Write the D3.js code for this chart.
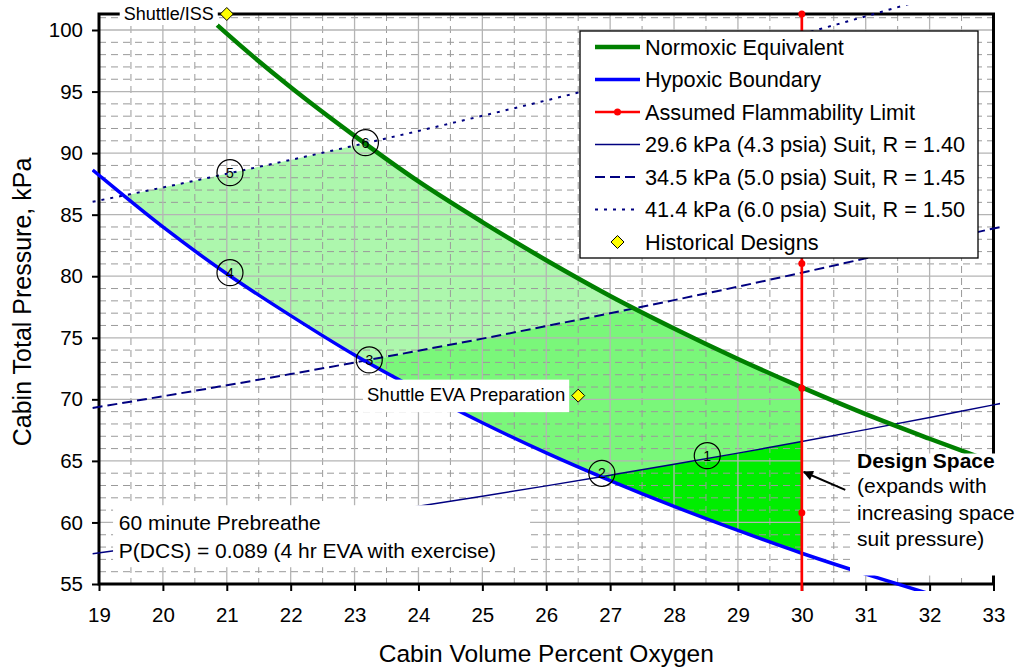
<!DOCTYPE html>
<html>
<head>
<meta charset="utf-8">
<script src="https://cdn.jsdelivr.net/npm/d3@7"></script>
<style>
  body { margin: 0; background: #fff; }
  svg { display: block; }
</style>
</head>
<body>
<svg></svg>
<script>
// axis ticks
const xTicks = [19, 20, 21, 22, 23, 24, 25, 26, 27, 28, 29, 30, 31, 32, 33];
const yTicks = [55, 60, 65, 70, 75, 80, 85, 90, 95, 100];

// curves, as [cabin % O2, cabin kPa]
const normoxic = [[20.85, 100.4], [21, 99.7], [22, 95.35], [23, 91.4], [24, 87.7], [25, 84.4], [26, 81.3],
  [27, 78.4], [28, 75.76], [29, 73.28], [30, 70.97], [31, 68.8], [32, 66.8], [33, 64.87]];
const hypoxic = [[18.9, 88.63], [19, 88.2], [20, 84.0], [21, 80.2], [22, 76.8], [23, 73.6], [24, 70.75],
  [25, 68.1], [26, 65.65], [27, 63.4], [28, 61.3], [29, 59.35], [30, 57.5], [31, 55.8], [32, 54.2]];
const flammability = [[30, 101.3], [30, 91.17], [30, 81.04], [30, 70.91], [30, 60.78], [30, 50.65]];
const suit296 = [[18.9, 57.46], [20, 58.25], [21, 58.99], [22, 59.74], [23, 60.52], [24, 61.32], [25, 62.13],
  [26, 62.97], [27, 63.84], [28, 64.72], [29, 65.63], [30, 66.57], [31, 67.54], [32, 68.53], [33, 69.55], [33.2, 69.75]];
const suit345 = [[18.9, 69.3], [20, 70.25], [21, 71.14], [22, 72.05], [23, 72.99], [24, 73.95], [25, 74.93],
  [26, 75.95], [27, 76.99], [28, 78.06], [29, 79.15], [30, 80.29], [31, 81.45], [32, 82.65], [33, 83.88], [33.2, 84.1]];
const suit414 = [[18.9, 86.05], [20, 87.21], [21, 88.32], [22, 89.45], [23, 90.61], [24, 91.8], [25, 93.03],
  [26, 94.28], [27, 95.57], [28, 96.9], [29, 98.27], [30, 99.67], [31, 101.11], [32, 102.6]];

// shaded regions
const regionLight = [[19.42, 86.55], [20, 87.21], [21, 88.32], [22, 89.45], [23.15, 90.78],
  [24, 87.7], [25, 84.4], [26, 81.3], [27, 78.4], [27.38, 77.38],
  [27, 76.99], [26, 75.95], [25, 74.93], [24, 73.95], [23.19, 73.12],
  [23, 73.6], [22, 76.8], [21, 80.2], [20, 84.0]];
const regionMid = [[23.19, 73.12], [24, 73.95], [25, 74.93], [26, 75.95], [27, 76.99], [27.38, 77.38],
  [28, 75.76], [29, 73.28], [30, 70.97], [30, 66.57], [29, 65.63], [28, 64.72], [27, 63.84], [26.86, 63.7],
  [26, 65.65], [25, 68.1], [24, 70.75]];
const regionDesign = [[26.86, 63.7], [27, 63.84], [28, 64.72], [29, 65.63], [30, 66.57],
  [30, 57.5], [29, 59.35], [28, 61.3], [27, 63.4]];

// numbered points
const pointNums = [1, 2, 3, 4, 5, 6];
const pointPos = [[28.52, 65.42], [26.87, 63.99], [23.23, 73.2], [21.05, 80.29], [21.05, 88.41], [23.17, 90.85]];

// historical designs
const histNames = ["Shuttle/ISS", "Shuttle EVA Preparation"];
const histPos = [[21, 101.3], [26.5, 70.3]];

const legendLabels = ["Normoxic Equivalent", "Hypoxic Boundary", "Assumed Flammability Limit",
  "29.6 kPa (4.3 psia) Suit, R = 1.40", "34.5 kPa (5.0 psia) Suit, R = 1.45",
  "41.4 kPa (6.0 psia) Suit, R = 1.50", "Historical Designs"];

const FONT = '"Liberation Sans", Arial, sans-serif';
const W = 1024, H = 670;

const x = d3.scaleLinear().domain([19, 33]).range([99, 993.5]);
const y = d3.scaleLinear().domain([55, 101.3]).range([584, 14]);

const svg = d3.select('svg').attr('width', W).attr('height', H).style('font-family', FONT);
svg.append('rect').attr('width', W).attr('height', H).attr('fill', '#fff');

const defs = svg.append('defs');
defs.append('clipPath').attr('id', 'plotClip')
  .append('rect').attr('x', 92).attr('y', 5).attr('width', 908).attr('height', 586);
defs.append('marker').attr('id', 'arrowHead')
  .attr('viewBox', '0 0 10 10').attr('refX', 9).attr('refY', 5)
  .attr('markerWidth', 6).attr('markerHeight', 5).attr('markerUnits', 'strokeWidth')
  .attr('orient', 'auto')
  .append('path').attr('d', 'M0,0 L10,5 L0,10 Z').attr('fill', '#000');

const flat = d3.line().x(d => x(d[0])).y(d => y(d[1]));
const smooth = d3.line().x(d => x(d[0])).y(d => y(d[1])).curve(d3.curveMonotoneX);

// shaded areas
const fills = svg.append('g');
fills.append('path').attr('d', flat(regionLight) + 'Z').attr('fill', '#adf7ad');
fills.append('path').attr('d', flat(regionMid) + 'Z').attr('fill', '#7af77a');
fills.append('path').attr('d', flat(regionDesign) + 'Z').attr('fill', '#00ee00');

// grid
const grid = svg.append('g');
const minorX = d3.range(19.5, 33, 1);
const minorY = d3.range(56, 102, 1).filter(v => v % 5 !== 0);
grid.selectAll('.vminor').data(minorX).join('line')
  .attr('x1', d => x(d)).attr('x2', d => x(d)).attr('y1', y(101.3)).attr('y2', y(55))
  .attr('stroke', '#9a9a9a').attr('stroke-dasharray', '7,5');
grid.selectAll('.hminor').data(minorY).join('line')
  .attr('x1', x(19)).attr('x2', x(33)).attr('y1', d => y(d)).attr('y2', d => y(d))
  .attr('stroke', '#9a9a9a').attr('stroke-dasharray', '7,5');
grid.selectAll('.vmajor').data(xTicks).join('line')
  .attr('x1', d => x(d)).attr('x2', d => x(d)).attr('y1', y(101.3)).attr('y2', y(55))
  .attr('stroke', '#b4b4b4').attr('stroke-width', 1.3);
grid.selectAll('.hmajor').data(yTicks).join('line')
  .attr('x1', x(19)).attr('x2', x(33)).attr('y1', d => y(d)).attr('y2', d => y(d))
  .attr('stroke', '#b4b4b4').attr('stroke-width', 1.3);

// axes
svg.append('g').attr('transform', `translate(0,${y(55)})`)
  .call(d3.axisBottom(x).tickValues(xTicks).tickSize(7).tickPadding(16).tickFormat(d3.format('d')))
  .attr('font-family', FONT).attr('font-size', 20.5)
  .call(g => g.select('.domain').remove())
  .call(g => g.selectAll('line').attr('stroke', '#000').attr('stroke-width', 2))
  .call(g => g.selectAll('text').attr('fill', '#000'));
svg.append('g').attr('transform', `translate(${x(19)},0)`)
  .call(d3.axisLeft(y).tickValues(yTicks).tickSize(7).tickPadding(9).tickFormat(d3.format('d')))
  .attr('font-family', FONT).attr('font-size', 20.5)
  .call(g => g.select('.domain').remove())
  .call(g => g.selectAll('line').attr('stroke', '#000').attr('stroke-width', 2))
  .call(g => g.selectAll('text').attr('fill', '#000'));

svg.append('rect')
  .attr('x', x(19)).attr('y', y(101.3))
  .attr('width', x(33) - x(19)).attr('height', y(55) - y(101.3))
  .attr('fill', 'none').attr('stroke', '#000').attr('stroke-width', 3);

svg.append('text').attr('transform', `translate(31,302) rotate(-90)`)
  .attr('text-anchor', 'middle').attr('font-size', 25).text('Cabin Total Pressure, kPa');
svg.append('text').attr('x', (x(19) + x(33)) / 2).attr('y', 662)
  .attr('text-anchor', 'middle').attr('font-size', 24.5).text('Cabin Volume Percent Oxygen');

// curves
const curves = svg.append('g').attr('clip-path', 'url(#plotClip)').attr('fill', 'none');
curves.append('path').datum(suit296).attr('d', smooth).attr('stroke', '#000080').attr('stroke-width', 1.5);
curves.append('path').datum(suit345).attr('d', smooth).attr('stroke', '#000080').attr('stroke-width', 2)
  .attr('stroke-dasharray', '10,5');
curves.append('path').datum(suit414).attr('d', smooth).attr('stroke', '#000080').attr('stroke-width', 2)
  .attr('stroke-dasharray', '3,6');
curves.append('path').datum(hypoxic).attr('d', smooth).attr('stroke', '#0000ff').attr('stroke-width', 3.5);
curves.append('path').datum(normoxic).attr('d', smooth).attr('stroke', '#008000').attr('stroke-width', 4.5);
curves.append('path').datum(flammability).attr('d', flat).attr('stroke', '#ff0000').attr('stroke-width', 2.7);
curves.selectAll('.flamDot').data(flammability).join('circle')
  .attr('cx', d => x(d[0])).attr('cy', d => y(d[1])).attr('r', 3.5).attr('fill', '#ff0000');

// numbered points
const nums = svg.append('g').selectAll('g').data(pointNums).join('g')
  .attr('transform', (d, i) => `translate(${x(pointPos[i][0])},${y(pointPos[i][1])})`);
nums.append('circle').attr('r', 13).attr('fill', 'none').attr('stroke', '#000').attr('stroke-width', 1.2);
nums.append('text').attr('text-anchor', 'middle').attr('dy', '0.36em').attr('font-size', 14).text(d => d);

// historical designs with labels
const diamond = 'M0,-6.5 L6.5,0 L0,6.5 L-6.5,0 Z';
histNames.forEach((name, i) => {
  const px = x(histPos[i][0]), py = y(histPos[i][1]);
  const fs = i === 0 ? 18 : 18.5;
  const by = i === 0 ? py + 6 : py + 5;
  const g = svg.append('g');
  const bg = g.append('rect').attr('fill', '#fff');
  const t = g.append('text').attr('x', px - 13).attr('y', by).attr('text-anchor', 'end')
    .attr('font-size', fs).text(name);
  const bb = t.node().getBBox();
  const padT = i === 0 ? 1 : 4, padB = i === 0 ? 1 : 7.5;
  bg.attr('x', bb.x - 4).attr('y', bb.y - padT).attr('width', bb.width + 8).attr('height', bb.height + padT + padB);
  g.append('path').attr('d', diamond).attr('transform', `translate(${px},${py})`)
    .attr('fill', '#ffff00').attr('stroke', '#000').attr('stroke-width', 1);
});

// prebreathe note
const note = svg.append('g');
note.append('rect').attr('x', x(19.22)).attr('y', y(61.4)).attr('width', 417).attr('height', 62).attr('fill', '#fff');
note.append('text').attr('x', x(19.31)).attr('y', y(59.4)).attr('font-size', 21).text('60 minute Prebreathe');
note.append('text').attr('x', x(19.31)).attr('y', y(57.15)).attr('font-size', 21)
  .text('P(DCS) = 0.089 (4 hr EVA with exercise)');

// design space note
const ds = svg.append('g');
ds.append('rect').attr('x', 850).attr('y', y(65.6)).attr('width', W - 850).attr('height', 122).attr('fill', '#fff');
const dsLines = ['(expands with', 'increasing space', 'suit pressure)'];
ds.append('text').attr('x', 857).attr('y', y(64.4)).attr('font-size', 21).attr('font-weight', 'bold').text('Design Space');
dsLines.forEach((s, i) => {
  ds.append('text').attr('x', 857).attr('y', y(64.4) + 25 + i * 26.5).attr('font-size', 21).text(s);
});
ds.append('line')
  .attr('x1', x(30.68)).attr('y1', y(62.64)).attr('x2', x(30.03)).attr('y2', y(64.1))
  .attr('stroke', '#000').attr('stroke-width', 2).attr('marker-end', 'url(#arrowHead)');

// legend
const legendStyle = [
  { stroke: '#008000', w: 4.5 },
  { stroke: '#0000ff', w: 3.5 },
  { stroke: '#ff0000', w: 2.7, dot: true },
  { stroke: '#000080', w: 1.5 },
  { stroke: '#000080', w: 2, dash: '10,5' },
  { stroke: '#000080', w: 2, dash: '3,6' },
  { diamond: true }
];
const lg = svg.append('g').attr('transform', 'translate(580,31)');
lg.append('rect').attr('width', 398).attr('height', 227).attr('fill', '#fff')
  .attr('stroke', '#000').attr('stroke-width', 1.3);
legendLabels.forEach((lab, i) => {
  const cy = 16 + i * 32.5;
  const st = legendStyle[i];
  if (st.diamond) {
    lg.append('path').attr('d', diamond).attr('transform', `translate(37.5,${cy})`)
      .attr('fill', '#ffff00').attr('stroke', '#000');
  } else {
    lg.append('line').attr('x1', 15).attr('x2', 60).attr('y1', cy).attr('y2', cy)
      .attr('stroke', st.stroke).attr('stroke-width', st.w).attr('stroke-dasharray', st.dash || null);
    if (st.dot) lg.append('circle').attr('cx', 37.5).attr('cy', cy).attr('r', 3.5).attr('fill', st.stroke);
  }
  lg.append('text').attr('x', 65).attr('y', cy).attr('dy', '0.35em').attr('font-size', 21.7).text(lab);
});
</script>
</body>
</html>
